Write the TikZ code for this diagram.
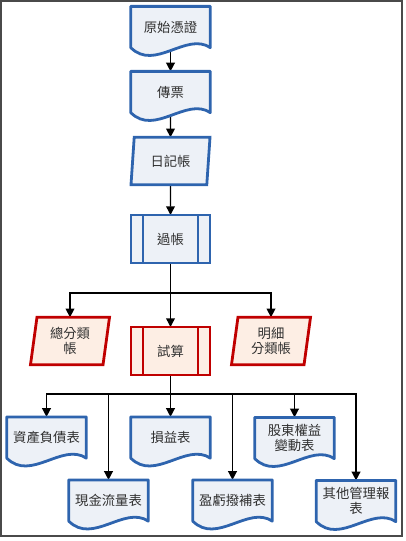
\documentclass[tikz,border=0pt]{standalone}
\usepackage{fontspec}
\usepackage{xcolor}
\usepackage{tikz}
\usetikzlibrary{calc,arrows.meta,shapes.geometric}
\setmainfont{Noto Sans CJK TC}
\definecolor{bluex}{HTML}{2E64AE}
\definecolor{bluebg}{HTML}{EDF1F7}
\definecolor{redx}{HTML}{C00000}
\definecolor{redbg}{HTML}{FDEEE4}
\definecolor{framex}{HTML}{4A4A4A}
\definecolor{inkx}{HTML}{303030}
\pgfdeclarelayer{bg}
\pgfsetlayers{bg,main}
\tikzset{
  ar/.style={-{Triangle[length=6.5pt,width=6.5pt]},line width=1.1pt,black},
  ln/.style={line width=1.1pt,black},
  blueb/.style={draw=bluex,fill=bluebg},
  redb/.style={draw=redx,fill=redbg},
  doc/.style={rectangle,inner sep=0pt,minimum width=59.25pt,minimum height=30.5pt,align=center},
  box/.style={rectangle,line width=2.1pt,outer sep=0pt,minimum width=59.25pt,minimum height=36pt,align=center},
  io/.style={trapezium,trapezium left angle=78,trapezium right angle=102,trapezium stretches body,
    line width=2.1pt,outer sep=0pt,inner sep=1pt,minimum width=59.25pt,minimum height=35.5pt,align=center}
}

\begin{document}
\begin{tikzpicture}[x=0.75pt,y=-0.75pt,font=\fontsize{10pt}{11.5pt}\selectfont,text=inkx]
\useasboundingbox (0,0) rectangle (405,541);
\draw[framex,line width=1.5pt] (0.75,0.75) rectangle (401.5,535.5);
% top column
\node[doc] (src) at (170.5,27) {原始憑證};
\node[doc] (vou) at (170.5,92) {傳票};
\node[io,blueb] (jnl) at (170.5,161) {日記帳};
\node[box,blueb] (post) at (170.5,239) {過帳};
% ledgers
\node[io,redb] (gl) at (70,341) {總分類\\帳};
\node[box,redb] (trial) at (170.5,351) {試算};
\node[io,redb] (sub) at (271,341) {明細\\分類帳};
% statements
\node[doc] (bs) at (46.5,437.5) {資產負債表};
\node[doc] (pl) at (170.5,437.5) {損益表};
\node[doc] (eq) at (294.5,438) {股東權益\\變動表};
\node[doc] (cf) at (108.5,500.5) {現金流量表};
\node[doc] (ap) at (232.5,500.5) {盈虧撥補表};
\node[doc] (oth) at (356,501) {其他管理報\\表};
\coordinate (fork1) at (170.5,293);
\coordinate (fork2) at (170.5,394);
\foreach \n/\c in {post/bluex,trial/redx}
  \draw[\c,line width=2.1pt] ([xshift=9pt]\n.north west) -- ([xshift=9pt]\n.south west)
    ([xshift=-9pt]\n.north east) -- ([xshift=-9pt]\n.south east);
\begin{pgfonlayer}{bg}
\draw[ar] (src) -- (vou);
\draw[ar] (vou) -- (jnl);
\draw[ar] (jnl) -- (post);
\draw[ar] (post) -- (trial);
\draw[ar] (fork1) -| (gl);
\draw[ar] (fork1) -| (sub);
\draw[ln] (trial) -- (fork2);
\foreach \n in {bs,cf,pl,ap,eq,oth}
  \draw[ar] (fork2) -| (\n);
% document outlines
\foreach \n in {src,vou,bs,cf,pl,ap,eq,oth}
  \draw[blueb,line width=2.1pt,line join=round] (\n.north west) -- (\n.north east) -- (\n.south east)
    .. controls ($(\n.south east)!0.3!(\n.south west)+(0,12pt)$) and ($(\n.south east)!0.7!(\n.south west)+(0,-18pt)$) .. (\n.south west) -- cycle;
\end{pgfonlayer}
\end{tikzpicture}
\end{document}
